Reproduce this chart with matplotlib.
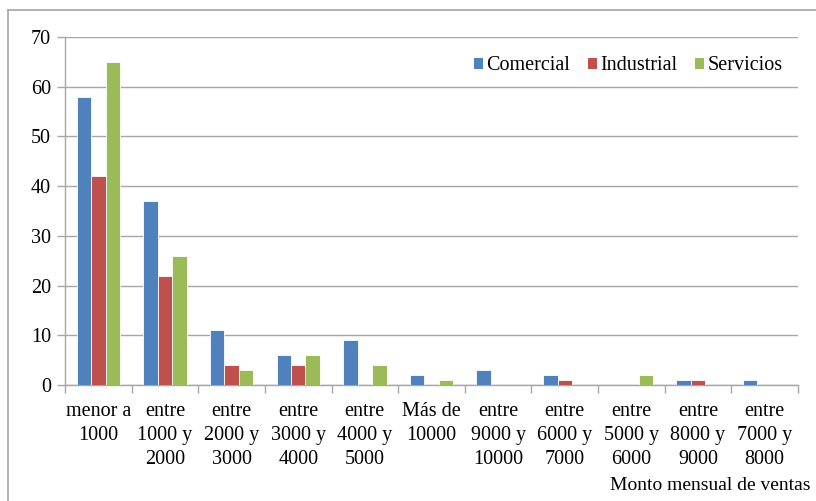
import matplotlib
matplotlib.use("Agg")
import matplotlib.pyplot as plt
import numpy as np
from matplotlib.lines import Line2D
from matplotlib.patches import Patch

plt.rcParams['font.family'] = ['Liberation Serif', 'DejaVu Serif']

categories = ["menor a\n1000", "entre\n1000 y\n2000", "entre\n2000 y\n3000", "entre\n3000 y\n4000",
              "entre\n4000 y\n5000", "Más de\n10000", "entre\n9000 y\n10000", "entre\n6000 y\n7000",
              "entre\n5000 y\n6000", "entre\n8000 y\n9000", "entre\n7000 y\n8000"]
comercial = [58, 37, 11, 6, 9, 2, 3, 2, 0, 1, 1]
industrial = [42, 22, 4, 4, 0, 0, 0, 1, 0, 1, 0]
servicios = [65, 26, 3, 6, 4, 1, 0, 0, 2, 0, 0]
series_names = ["Comercial", "Industrial", "Servicios"]
colors = ["#4F81BD", "#C0504D", "#9BBB59"]

fig = plt.figure(figsize=(8.16, 5.01), dpi=100)
ax = fig.add_axes([65/816, 1-385/501, (798-65)/816, (385-37)/501])

x = np.arange(len(categories))
w = 0.217
for i, (vals, c) in enumerate(zip([comercial, industrial, servicios], colors)):
    ax.bar(x + (i-1)*w, vals, width=w, color=c, edgecolor='white', linewidth=0.6, zorder=3)

ax.set_xlim(-0.5, len(categories)-0.5)
ax.set_ylim(0, 70)
ax.set_yticks(range(0, 71, 10))
ax.yaxis.grid(True, color='#A6A6A6', linewidth=1, zorder=0)
ax.set_axisbelow(True)
for s in ['top', 'right']:
    ax.spines[s].set_visible(False)
for s in ['left', 'bottom']:
    ax.spines[s].set_color('#A6A6A6')
    ax.spines[s].set_linewidth(1)

ax.set_xticks(x)
ax.set_xticklabels(categories, fontsize=14.5, linespacing=1.36, va='top')
ax.tick_params(axis='x', length=0, pad=12)
ax.set_xticks(np.arange(-0.5, len(categories), 1), minor=True)
ax.tick_params(axis='x', which='minor', length=6, color='#A6A6A6', width=1)
ax.tick_params(axis='y', length=6, color='#A6A6A6', width=1, labelsize=14.5, pad=4)

fig.text(810/816, 1-486/501, "Monto mensual de ventas", ha='right', va='center', fontsize=14)

handles = [Patch(facecolor=c, edgecolor='none') for c in colors]
fig.legend(handles, series_names, loc='center', bbox_to_anchor=(628/816, 1-66/501), ncol=3,
           frameon=False, fontsize=14.5, handlelength=0.45, handleheight=0.45, handletextpad=0.15,
           columnspacing=0.9)

# outer chart border
fig.add_artist(Line2D([8/816, 8/816], [0, 1-10/501], transform=fig.transFigure, color='#A6A6A6', lw=1.2))
fig.add_artist(Line2D([8/816, 1], [1-10/501, 1-10/501], transform=fig.transFigure, color='#A6A6A6', lw=1.2))

fig.savefig("out.png", dpi=100)
